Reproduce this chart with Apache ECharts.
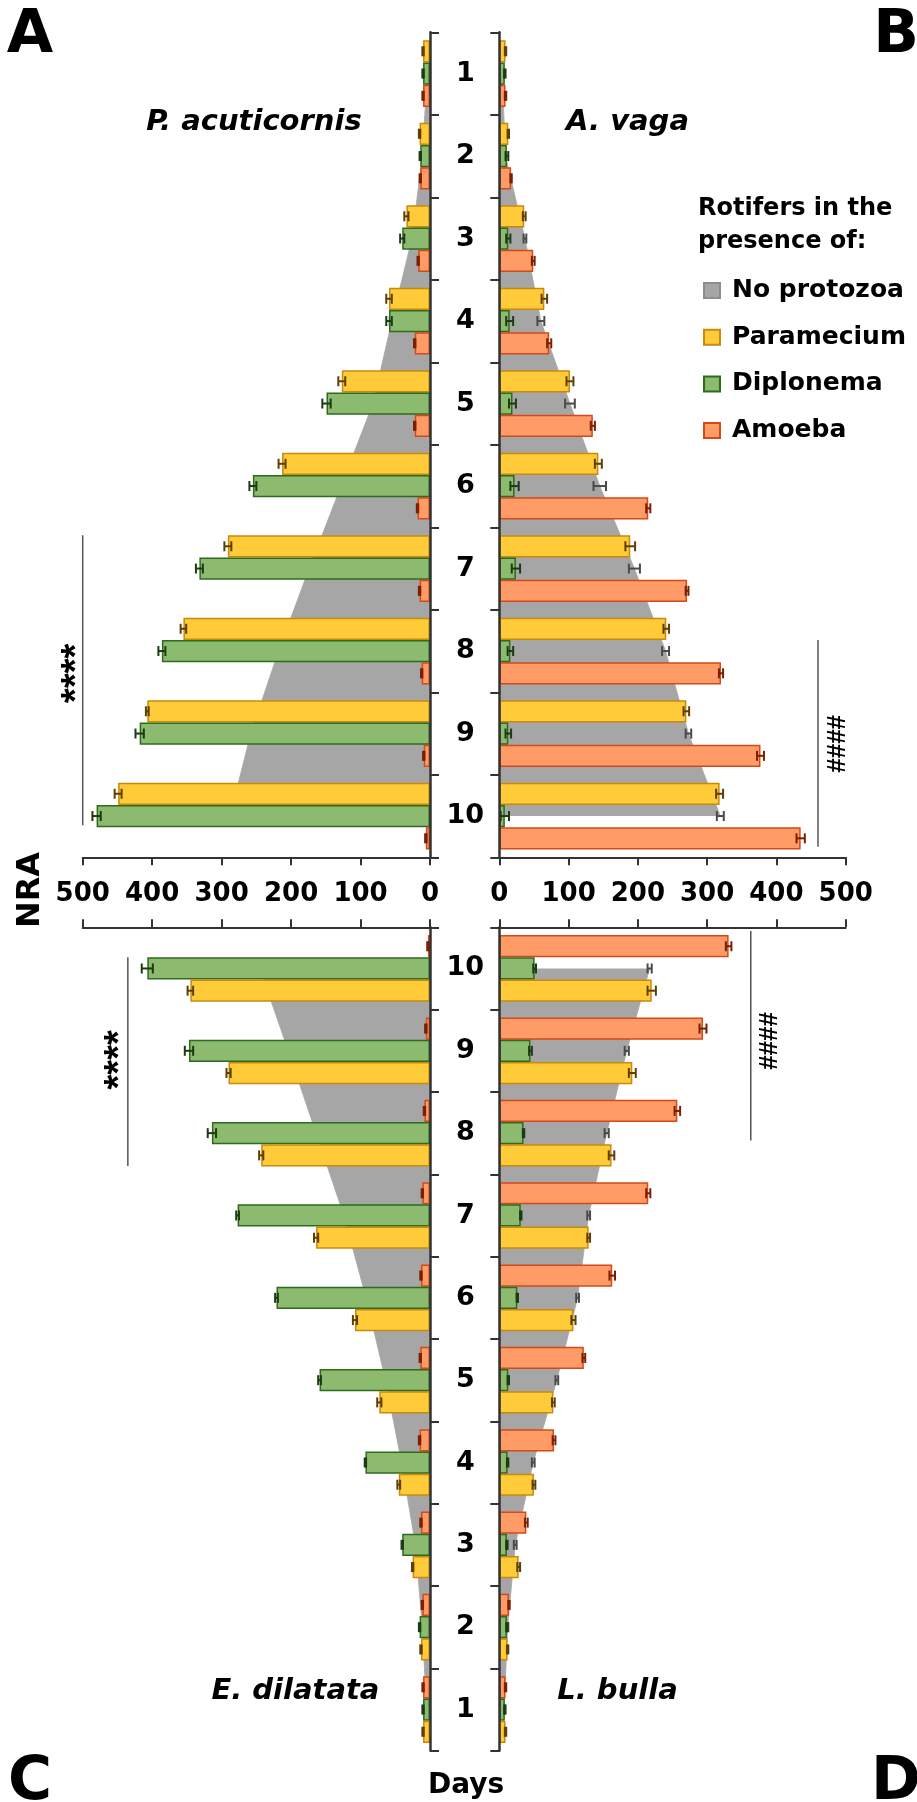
<!DOCTYPE html>
<html><head><meta charset="utf-8">
<script src="https://cdn.jsdelivr.net/npm/echarts@6/dist/echarts.min.js"></script>
<style>html,body{margin:0;padding:0;background:#fff}#c{width:917px;height:1802px}</style>
</head><body><div id="c"></div>
<script>
// ---------- data ----------
const days = ['1','2','3','4','5','6','7','8','9','10'];
const valueTicks = [0, 100, 200, 300, 400, 500];

// Panel A – P. acuticornis
const aNone = [4, 11, 26, 55, 82, 128, 174, 218, 258, 288];
const aNoneErr = [1, 1, 2, 3, 4, 5, 5, 5, 5, 6];
const aPara = [10, 15, 34, 59, 127, 213, 291, 355, 407, 449];
const aParaErr = [1, 1, 3, 4, 5, 5, 5, 4, 2, 5];
const aDiplo = [10, 14, 40, 59, 149, 255, 332, 386, 418, 480];
const aDiploErr = [1, 1, 3, 4, 6, 5, 5, 5, 6, 6];
const aAmoeba = [10, 14, 17, 22, 22, 18, 15, 12, 9, 6];
const aAmoebaErr = [1, 1, 1, 1, 1, 1, 1, 1, 1, 1];

// Panel B – A. vaga
const bNone = [4, 9, 37, 60, 102, 145, 195, 240, 273, 319];
const bNoneErr = [1, 1, 2, 5, 7, 9, 8, 5, 4, 5];
const bPara = [9, 13, 36, 65, 102, 143, 189, 241, 270, 318];
const bParaErr = [1, 1, 2, 4, 5, 5, 7, 4, 4, 5];
const bDiplo = [8, 11, 13, 15, 19, 22, 24, 16, 13, 8];
const bDiploErr = [1, 2, 3, 5, 5, 6, 6, 4, 4, 6];
const bAmoeba = [9, 17, 49, 72, 135, 215, 271, 320, 377, 435];
const bAmoebaErr = [1, 1, 2, 3, 3, 3, 2, 3, 5, 6];

// Panel C – E. dilatata
const cNone = [5, 11, 21, 41, 64, 92, 124, 164, 204, 245];
const cNoneErr = [1, 1, 1, 2, 2, 3, 3, 3, 4, 4];
const cPara = [10, 13, 25, 45, 73, 108, 164, 243, 290, 345];
const cParaErr = [1, 1, 1, 2, 3, 3, 3, 3, 3, 4];
const cDiplo = [10, 15, 40, 93, 159, 221, 277, 314, 347, 407];
const cDiploErr = [1, 1, 1, 1, 2, 2, 2, 6, 6, 8];
const cAmoeba = [10, 11, 13, 15, 14, 13, 11, 8, 6, 3];
const cAmoebaErr = [1, 1, 1, 1, 1, 1, 1, 1, 1, 1];

// Panel D – L. bulla
const dNone = [7, 12, 23, 49, 83, 113, 129, 155, 184, 217];
const dNoneErr = [1, 1, 2, 2, 2, 2, 2, 3, 3, 3];
const dPara = [9, 12, 28, 50, 78, 107, 129, 162, 192, 220];
const dParaErr = [1, 1, 2, 2, 2, 3, 2, 4, 5, 6];
const dDiplo = [8, 11, 11, 12, 13, 26, 31, 35, 45, 51];
const dDiploErr = [1, 1, 1, 1, 1, 1, 1, 1, 2, 2];
const dAmoeba = [9, 14, 39, 79, 122, 163, 215, 257, 294, 331];
const dAmoebaErr = [1, 1, 2, 2, 2, 4, 3, 4, 5, 4];

const legendNames = ['No protozoa', 'Paramecium', 'Diplonema', 'Amoeba'];
const speciesNames = ['P. acuticornis', 'A. vaga', 'E. dilatata', 'L. bulla'];

// ---------- styles ----------
const FONT = 'DejaVu Sans';
const COL = {
  'No protozoa': {fill: '#a6a6a6', border: '#8c8c8c', err: '#4a4a4a'},
  'Paramecium':  {fill: '#ffcb38', border: '#c98a0c', err: '#5e3f00'},
  'Diplonema':   {fill: '#8cba6e', border: '#2f6b1f', err: '#1b3b10'},
  'Amoeba':      {fill: '#ff9b66', border: '#d24a18', err: '#7a1f00'}
};
const GAP = 0.19;

const panels = [
  {grid: {left: 82.7, top: 32.3, width: 347.3, height: 825}, invX: true, invY: true, catPos: 'right', valPos: 'bottom', valLabels: true, catLabels: false,
   none: aNone, noneErr: aNoneErr, bars: [['Paramecium', aPara, aParaErr], ['Diplonema', aDiplo, aDiploErr], ['Amoeba', aAmoeba, aAmoebaErr]]},
  {grid: {left: 499.3, top: 32.3, width: 346.4, height: 825}, invX: false, invY: true, catPos: 'left', valPos: 'bottom', valLabels: true, catLabels: true,
   none: bNone, noneErr: bNoneErr, bars: [['Paramecium', bPara, bParaErr], ['Diplonema', bDiplo, bDiploErr], ['Amoeba', bAmoeba, bAmoebaErr]]},
  {grid: {left: 82.7, top: 927.3, width: 347.3, height: 823.4}, invX: true, invY: false, catPos: 'right', valPos: 'top', valLabels: false, catLabels: false,
   none: cNone, noneErr: cNoneErr, bars: [['Amoeba', cAmoeba, cAmoebaErr], ['Diplonema', cDiplo, cDiploErr], ['Paramecium', cPara, cParaErr]]},
  {grid: {left: 499.3, top: 927.3, width: 346.4, height: 823.4}, invX: false, invY: false, catPos: 'left', valPos: 'top', valLabels: false, catLabels: true,
   none: dNone, noneErr: dNoneErr, bars: [['Amoeba', dAmoeba, dAmoebaErr], ['Diplonema', dDiplo, dDiploErr], ['Paramecium', dPara, dParaErr]]}
];

function errItem(k, color) {
  return function (params, api) {
    const v = api.value(0), e = api.value(1), i = api.value(2);
    const p0 = api.coord([v - e, i]), p1 = api.coord([v + e, i]);
    const band = api.size([0, 1])[1];
    const w = band * (1 - GAP) / 3;
    const y = p0[1] + (k - 1) * w;
    const h = 5;
    const st = {stroke: color, lineWidth: 2};
    return {type: 'group', children: [
      {type: 'line', shape: {x1: p0[0], y1: y, x2: p1[0], y2: y}, style: st},
      {type: 'line', shape: {x1: p0[0], y1: y - h, x2: p0[0], y2: y + h}, style: st},
      {type: 'line', shape: {x1: p1[0], y1: y - h, x2: p1[0], y2: y + h}, style: st}
    ]};
  };
}

const grids = [], xAxes = [], yAxes = [], series = [];
panels.forEach((p, gi) => {
  grids.push(Object.assign({containLabel: false, outerBoundsMode: 'none'}, p.grid));
  xAxes.push({
    type: 'value', gridIndex: gi, min: valueTicks[0], max: valueTicks[valueTicks.length - 1], interval: 100,
    inverse: p.invX, position: p.valPos,
    axisLine: {show: true, onZero: false, lineStyle: {color: '#333', width: 2}},
    axisTick: {show: true, length: 8, lineStyle: {color: '#333', width: 2}},
    axisLabel: {show: p.valLabels, fontFamily: FONT, fontWeight: 'bold', fontSize: 26, color: '#000', margin: 24},
    splitLine: {show: false}
  });
  yAxes.push({
    type: 'category', gridIndex: gi, data: days, inverse: p.invY, position: p.catPos, z: 5,
    axisLine: {show: true, onZero: false, lineStyle: {color: '#333', width: 2.5}},
    axisTick: {show: true, length: 9, lineStyle: {color: '#333', width: 2}},
    axisLabel: {show: p.catLabels, align: 'center', margin: 34, fontFamily: FONT, fontWeight: 'bold', fontSize: 27, color: '#000'},
    splitLine: {show: false}
  });
  const gc = COL['No protozoa'];
  series.push({
    name: 'No protozoa', type: 'line', xAxisIndex: gi, yAxisIndex: gi, z: 1,
    data: p.none.map((v, i) => [v, i]), showSymbol: false, symbol: 'none', silent: true,
    lineStyle: {width: 0.8, color: gc.fill}, itemStyle: {color: gc.fill, borderColor: gc.border, borderWidth: 1},
    areaStyle: {color: gc.fill, opacity: 1}
  });
  series.push({
    name: 'err-none', type: 'custom', xAxisIndex: gi, yAxisIndex: gi, z: 2, silent: true,
    encode: {x: 0, y: 2}, renderItem: errItem(1, gc.err),
    data: p.none.map((v, i) => [v, p.noneErr[i], i])
  });
  p.bars.forEach((b) => {
    const c = COL[b[0]];
    series.push({
      name: b[0], type: 'bar', xAxisIndex: gi, yAxisIndex: gi, z: 3,
      barCategoryGap: (GAP * 100) + '%', barGap: '0%',
      itemStyle: {color: c.fill, borderColor: c.border, borderWidth: 1.5},
      data: b[1]
    });
  });
  p.bars.forEach((b, k) => {
    const c = COL[b[0]];
    series.push({
      name: 'err-' + b[0], type: 'custom', xAxisIndex: gi, yAxisIndex: gi, z: 4, silent: true,
      encode: {x: 0, y: 2}, renderItem: errItem(k, c.err),
      data: b[1].map((v, i) => [v, b[2][i], i])
    });
  });
});

function txt(text, x, y, font, opts) {
  return {type: 'text', x: x, y: y, silent: true, style: Object.assign({
    text: text, font: font, fill: '#000', align: 'center', verticalAlign: 'middle'}, opts || {})};
}

const baseGraphic = [
  txt('A', 30, 36.5, 'bold 60px "DejaVu Sans"'),
  txt('B', 896, 36.5, 'bold 60px "DejaVu Sans"'),
  txt('C', 30, 1783, 'bold 60px "DejaVu Sans"'),
  txt('D', 896, 1783, 'bold 60px "DejaVu Sans"'),
  txt(speciesNames[0], 254, 122.8, 'italic bold 29px "DejaVu Sans"'),
  txt(speciesNames[1], 627.5, 122.8, 'italic bold 29px "DejaVu Sans"'),
  txt(speciesNames[2], 295.4, 1691, 'italic bold 29px "DejaVu Sans"'),
  txt(speciesNames[3], 617.5, 1691, 'italic bold 29px "DejaVu Sans"'),
  txt('Rotifers in the', 698, 208.6, 'bold 24px "DejaVu Sans"', {align: 'left'}),
  txt('presence of:', 698, 242, 'bold 24px "DejaVu Sans"', {align: 'left'}),
  txt('Days', 466, 1786, 'bold 28px "DejaVu Sans"'),
  Object.assign(txt('NRA', 31, 890, 'bold 32px "DejaVu Sans"'), {rotation: Math.PI / 2})
];

const chart = echarts.init(document.getElementById('c'), null, {renderer: 'canvas'});
chart.setOption({
  backgroundColor: '#fff',
  animation: false,
  grid: grids, xAxis: xAxes, yAxis: yAxes, series: series,
  legend: {
    data: legendNames.map(n => ({name: n, icon: 'rect'})),
    orient: 'vertical', left: 703, top: 278, padding: 0,
    itemWidth: 16, itemHeight: 15, itemGap: 21.7,
    textStyle: {fontFamily: FONT, fontWeight: 'bold', fontSize: 25, color: '#000', lineHeight: 25, padding: [0, 0, 0, 7]}
  },
  graphic: baseGraphic
});

// significance annotations positioned through the axes
function catY(gi, d) {
  const i = Math.floor(d - 1), f = (d - 1) - i;
  const a = chart.convertToPixel({gridIndex: gi}, [0, i])[1];
  const b = chart.convertToPixel({gridIndex: gi}, [0, i + 1])[1];
  return a + (b - a) * f;
}
function valX(gi, v) { return chart.convertToPixel({gridIndex: gi}, [v, 0])[0]; }
const sig = [
  {gi: 0, lineV: 500, from: 6.595, to: 10.11, textV: 508, textD: 8.27, text: '****'},
  {gi: 1, lineV: 460, from: 7.867, to: 10.372, textV: 488, textD: 9.125, text: '####'},
  {gi: 2, lineV: 435, from: 10.136, to: 7.60, textV: 445, textD: 8.89, text: '****'},
  {gi: 3, lineV: 363, from: 10.455, to: 7.91, textV: 390, textD: 9.12, text: '####'}
];
const sigGraphic = [];
sig.forEach(s => {
  const x = valX(s.gi, s.lineV);
  sigGraphic.push({type: 'line', silent: true, shape: {x1: x, y1: catY(s.gi, s.from), x2: x, y2: catY(s.gi, s.to)},
    style: {stroke: '#555', lineWidth: 1.5}});
  const isStar = s.text === '****';
  const t = txt(s.text, valX(s.gi, s.textV), catY(s.gi, s.textD),
    isStar ? 'bold 38px "Liberation Sans"' : 'bold 26px "Liberation Sans"');
  t.rotation = Math.PI / 2;
  sigGraphic.push(t);
});
chart.setOption({graphic: baseGraphic.concat(sigGraphic)});
</script></body></html>
